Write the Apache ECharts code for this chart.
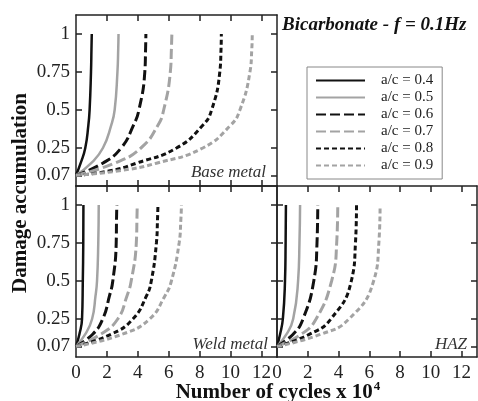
<!DOCTYPE html>
<html>
<head>
<meta charset="utf-8">
<script src="https://cdn.jsdelivr.net/npm/echarts@6/dist/echarts.min.js"></script>
<style>
  html, body { margin: 0; padding: 0; background: #fff; }
  #chart { width: 478px; height: 401px; }
</style>
</head>
<body>
<div id="chart"></div>
<script>
// a/c ratios (legend)
const acRatios = ['a/c = 0.4', 'a/c = 0.5', 'a/c = 0.6', 'a/c = 0.7', 'a/c = 0.8', 'a/c = 0.9'];
const xTicks = [0, 2, 4, 6, 8, 10, 12];
const yTicks = [0.07, 0.25, 0.5, 0.75, 1];

// [cycles x 10^4, damage], one list per a/c
const baseMetal = [
  [[0, 0.07], [0.3, 0.15], [0.6, 0.25], [0.8, 0.4], [0.88, 0.5], [0.97, 0.75], [1.0, 0.9], [1.02, 1]],
  [[0, 0.07], [0.98, 0.15], [1.74, 0.25], [2.28, 0.4], [2.5, 0.5], [2.68, 0.75], [2.73, 0.9], [2.75, 1]],
  [[0, 0.07], [1.73, 0.15], [2.92, 0.25], [3.72, 0.4], [4.07, 0.5], [4.45, 0.75], [4.5, 0.9], [4.52, 1]],
  [[0, 0.07], [2.5, 0.15], [4.2, 0.25], [5.3, 0.4], [5.67, 0.5], [6.1, 0.75], [6.17, 0.9], [6.2, 1]],
  [[0, 0.07], [2.2, 0.1], [3.9, 0.15], [6.5, 0.25], [8.2, 0.4], [8.77, 0.5], [9.3, 0.75], [9.38, 0.9], [9.4, 1]],
  [[0, 0.07], [2.8, 0.1], [5.2, 0.15], [8.2, 0.25], [10.0, 0.4], [10.6, 0.5], [11.25, 0.75], [11.37, 0.9], [11.4, 1]]
];
const weldMetal = [
  [[0, 0.07], [0.22, 0.15], [0.39, 0.25], [0.44, 0.5], [0.47, 0.75], [0.48, 1]],
  [[0, 0.07], [0.6, 0.15], [1.04, 0.25], [1.26, 0.4], [1.36, 0.5], [1.44, 0.75], [1.47, 1]],
  [[0, 0.07], [1.08, 0.15], [1.73, 0.25], [2.16, 0.4], [2.38, 0.5], [2.6, 0.75], [2.62, 0.9], [2.64, 1]],
  [[0, 0.07], [1.6, 0.15], [2.7, 0.25], [3.29, 0.4], [3.57, 0.5], [3.9, 0.75], [3.94, 0.9], [3.96, 1]],
  [[0, 0.07], [2.27, 0.15], [3.68, 0.25], [4.55, 0.4], [4.87, 0.5], [5.2, 0.75], [5.27, 0.9], [5.3, 1]],
  [[0, 0.07], [3.0, 0.15], [4.76, 0.25], [5.74, 0.4], [6.17, 0.5], [6.67, 0.75], [6.78, 0.9], [6.82, 1]]
];
const haz = [
  [[0, 0.07], [0.2, 0.15], [0.38, 0.25], [0.52, 0.5], [0.56, 0.75], [0.58, 1]],
  [[0, 0.07], [0.62, 0.15], [1.05, 0.25], [1.37, 0.5], [1.46, 0.75], [1.5, 1]],
  [[0, 0.07], [1.05, 0.15], [1.69, 0.25], [2.39, 0.5], [2.6, 0.75], [2.65, 1]],
  [[0, 0.07], [1.58, 0.15], [2.54, 0.25], [3.55, 0.5], [3.88, 0.75], [3.95, 1]],
  [[0, 0.07], [2.12, 0.15], [3.5, 0.25], [4.83, 0.5], [5.1, 0.75], [5.17, 1]],
  [[0, 0.07], [2.86, 0.15], [4.68, 0.25], [6.28, 0.5], [6.62, 0.75], [6.7, 0.98]]
];

const serif = "'Liberation Serif', 'Times New Roman', serif";
const black = '#111';
const gray = '#a3a3a3';
const curveStyles = [
  { color: black, width: 2.5, type: 'solid' },
  { color: gray, width: 2.5, type: 'solid' },
  { color: black, width: 3, type: [10, 4] },
  { color: gray, width: 3, type: [10, 4] },
  { color: black, width: 3, type: [5, 3] },
  { color: gray, width: 3, type: [5, 3] }
];

const grids = [
  { left: 76, top: 15, width: 201, height: 171 },
  { left: 76, top: 186, width: 201, height: 171 },
  { left: 277, top: 186, width: 200, height: 171 }
];

function frame() {
  return { show: true, onZero: false, lineStyle: { color: '#222', width: 1.5 } };
}
function ticks(extra) {
  return Object.assign({ show: true, inside: true, length: 6, lineStyle: { color: '#222', width: 1.5 } }, extra);
}

function xAxis(gridIndex, position, showLabel) {
  return {
    type: 'value', gridIndex, position, min: 0, max: 13,
    axisLine: frame(),
    splitLine: { show: false },
    axisTick: ticks({ customValues: xTicks.slice(1) }),
    axisLabel: {
      show: showLabel, customValues: xTicks, margin: 7,
      fontFamily: serif, fontSize: 19, color: '#222'
    }
  };
}
function yAxis(gridIndex, position, showLabel) {
  return {
    type: 'value', gridIndex, position, min: 0, max: 1.125,
    axisLine: frame(),
    splitLine: { show: false },
    axisTick: ticks({ customValues: yTicks }),
    axisLabel: {
      show: showLabel, customValues: yTicks, margin: 6,
      fontFamily: serif, fontSize: 19, color: '#222',
      formatter: v => String(v)
    }
  };
}

const panels = [baseMetal, weldMetal, haz];
const series = [];
panels.forEach((curves, p) => {
  curves.forEach((pts, i) => {
    series.push({
      name: acRatios[i],
      type: 'line',
      xAxisIndex: p,
      yAxisIndex: p,
      data: pts,
      symbol: 'none',
      smooth: 0.5,
      lineStyle: curveStyles[i],
      itemStyle: { color: curveStyles[i].color },
      silent: true,
      animation: false
    });
  });
});

const chart = echarts.init(document.getElementById('chart'), null, { renderer: 'canvas' });
chart.setOption({
  backgroundColor: '#fff',
  animation: false,
  grid: grids,
  xAxis: [
    xAxis(0, 'bottom', false), xAxis(1, 'bottom', true), xAxis(2, 'bottom', true),
    xAxis(0, 'top', false), xAxis(1, 'top', false), xAxis(2, 'top', false)
  ],
  yAxis: [
    yAxis(0, 'left', true), yAxis(1, 'left', true), yAxis(2, 'left', false),
    yAxis(0, 'right', false), yAxis(1, 'right', false), yAxis(2, 'right', false)
  ],
  legend: {
    data: acRatios,
    orient: 'vertical',
    left: 307,
    top: 67,
    padding: [5, 9, 5, 8],
    itemGap: 0,
    itemWidth: 49,
    itemHeight: 2,
    itemStyle: { opacity: 0 },
    borderColor: '#888',
    borderWidth: 1,
    selectedMode: false,
    textStyle: { fontFamily: serif, fontSize: 15, color: '#222', lineHeight: 17, padding: [0, 0, 0, 11] }
  },
  graphic: [
    {
      type: 'text', x: 282, y: 25,
      style: {
        text: 'Bicarbonate - f = 0.1Hz', fontFamily: serif, fontSize: 19,
        fontWeight: 'bold', fontStyle: 'italic', fill: '#111', verticalAlign: 'middle'
      }
    },
    {
      type: 'text', x: 21, y: 193, rotation: Math.PI / 2,
      style: {
        text: 'Damage accumulation', fontFamily: serif, fontSize: 21, fontWeight: 'bold',
        fill: '#111', align: 'center', verticalAlign: 'middle'
      }
    },
    {
      type: 'text', x: 278, y: 393,
      style: {
        text: '{n|Number of cycles x 10}{s|4}',
        align: 'center', verticalAlign: 'middle',
        rich: {
          n: { fontFamily: serif, fontSize: 21, fontWeight: 'bold', fill: '#111' },
          s: { fontFamily: serif, fontSize: 13, fontWeight: 'bold', fill: '#111', padding: [0, 0, 12, 1] }
        }
      }
    },
    {
      type: 'text', x: 266, y: 173,
      style: { text: 'Base metal', fontFamily: serif, fontSize: 17, fontStyle: 'italic', fill: '#333', align: 'right', verticalAlign: 'middle' }
    },
    {
      type: 'text', x: 268, y: 345,
      style: { text: 'Weld metal', fontFamily: serif, fontSize: 17, fontStyle: 'italic', fill: '#333', align: 'right', verticalAlign: 'middle' }
    },
    {
      type: 'text', x: 467, y: 345,
      style: { text: 'HAZ', fontFamily: serif, fontSize: 17, fontStyle: 'italic', fill: '#333', align: 'right', verticalAlign: 'middle' }
    }
  ],
  series: series
});
</script>
</body>
</html>
